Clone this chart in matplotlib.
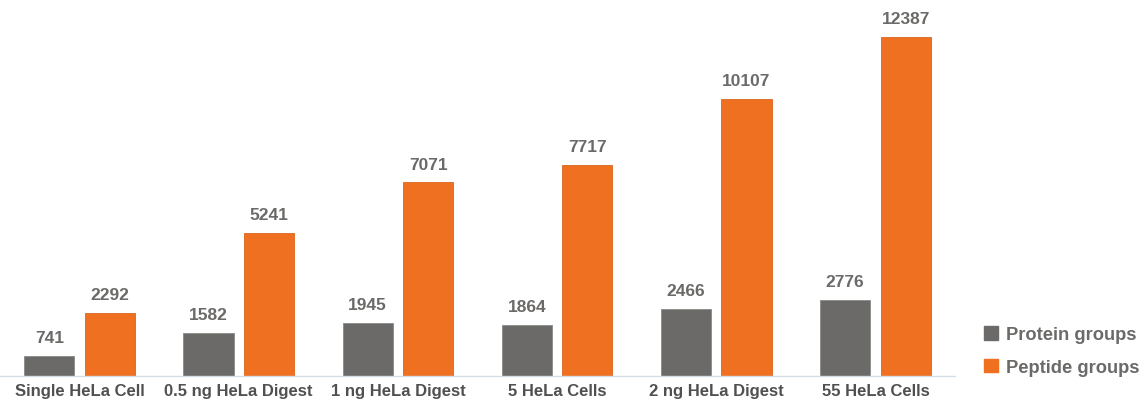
import matplotlib
matplotlib.use("Agg")
import matplotlib.pyplot as plt
import numpy as np
from matplotlib.patches import Patch

plt.rcParams['font.family'] = ['Liberation Sans', 'DejaVu Sans']

categories = ["Single HeLa Cell", "0.5 ng HeLa Digest", "1 ng HeLa Digest",
              "5 HeLa Cells", "2 ng HeLa Digest", "55 HeLa Cells"]
protein_groups = [741, 1582, 1945, 1864, 2466, 2776]
peptide_groups = [2292, 5241, 7071, 7717, 10107, 12387]

GRAY = "#6b6a68"
ORANGE = "#f07022"
TEXT = "#6b6a68"

fig = plt.figure(figsize=(11.48, 4.02), dpi=100)
ax = fig.add_axes([0.0, 25 / 402, 955 / 1148, 377 / 402])

x = np.arange(len(categories))
w = 0.315
off = 0.19
b1 = ax.bar(x - off, protein_groups, w, color=GRAY, edgecolor="#8a8986", linewidth=0.6)
b2 = ax.bar(x + off, peptide_groups, w, color=ORANGE, edgecolor="#d9651f", linewidth=0.6)

for bars in (b1, b2):
    for r in bars:
        ax.text(r.get_x() + r.get_width() / 2, r.get_height() + 400,
                f"{int(r.get_height())}", ha="center", va="bottom",
                fontsize=12.5, fontweight="bold", color=TEXT)

ax.set_xlim(-0.5, len(categories) - 0.5)
ax.set_ylim(0, 13775)
ax.set_yticks([])
ax.set_xticks(x)
ax.set_xticklabels(categories, fontsize=12, fontweight="bold", color="#505050")
ax.tick_params(axis="x", length=0, pad=5)
for s in ("top", "right", "left"):
    ax.spines[s].set_visible(False)
ax.spines["bottom"].set_color("#d5dde6")
ax.spines["bottom"].set_linewidth(1.0)

handles = [Patch(color=GRAY, label="Protein groups"),
           Patch(color=ORANGE, label="Peptide groups")]
leg = fig.legend(handles=handles, loc="lower left", bbox_to_anchor=(984 / 1148, 25 / 402),
                 frameon=False, borderpad=0, borderaxespad=0,
                 handlelength=0.75, handleheight=0.75, handletextpad=0.45,
                 labelspacing=0.85, prop={"size": 13.2, "weight": "bold"})
for t in leg.get_texts():
    t.set_color("#6b6a68")

fig.savefig("out.png", dpi=100)
